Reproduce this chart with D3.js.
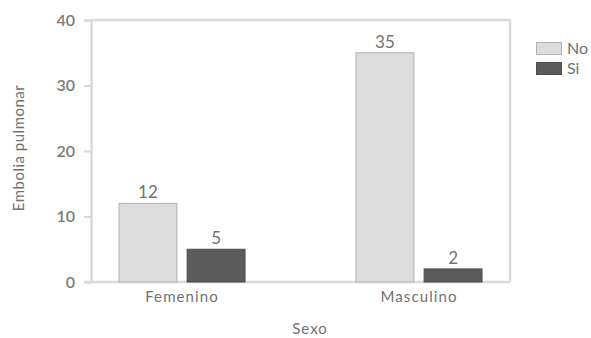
<!DOCTYPE html>
<html>
<head>
<meta charset="utf-8">
<script src="https://cdn.jsdelivr.net/npm/d3@7"></script>
<style>
  html, body { margin: 0; padding: 0; background: #fff; }
  svg text { font-family: "Lato", "Open Sans", sans-serif; fill: #727272; }
</style>
</head>
<body>
<svg id="chart" width="591" height="338"></svg>
<script>
// Embolia pulmonar por sexo
const categories = ["Femenino", "Masculino"];
const seriesNames = ["No", "Si"];
const valuesNo = [12, 35];
const valuesSi = [5, 2];
const yTicks = [0, 10, 20, 30, 40];

const colors = { No: "#dcdcdc", Si: "#5b5b5b" };
const strokes = { No: "#b4b4b4", Si: "#4e4e4e" };

const svg = d3.select("#chart");
const margin = { left: 91, right: 81, top: 20, bottom: 56 };
const W = 591, H = 338;
const plotW = W - margin.left - margin.right;
const plotH = H - margin.top - margin.bottom;

const rows = categories.map((c, i) => ({ cat: c, No: valuesNo[i], Si: valuesSi[i] }));

const x0 = d3.scaleBand().domain(categories).range([0, plotW])
  .paddingInner(0.468).paddingOuter(0.118);
const x1 = d3.scaleBand().domain(seriesNames).range([0, x0.bandwidth()])
  .paddingInner(0.15);
const y = d3.scaleLinear().domain([0, 40]).range([plotH, 0]);

const g = svg.append("g").attr("transform", `translate(${margin.left},${margin.top})`);

// frame: top and right edges
g.append("path")
  .attr("d", `M0,0H${plotW}V${plotH}`)
  .attr("fill", "none").attr("stroke", "#dadada").attr("stroke-width", 2.5);

// y axis
const yAxis = g.append("g").call(d3.axisLeft(y).tickValues(yTicks).tickSize(7).tickPadding(9));
yAxis.select(".domain").attr("stroke", "#dadada").attr("stroke-width", 2.5);
yAxis.selectAll(".tick line").attr("stroke", "#dadada").attr("stroke-width", 2);
yAxis.selectAll(".tick text").attr("font-size", 16).attr("font-weight", 600)
  .style("fill", "#7a7a7a");

// x axis baseline
const xAxis = g.append("g").attr("transform", `translate(0,${plotH})`)
  .call(d3.axisBottom(x0).tickSize(0).tickPadding(9));
xAxis.select(".domain").attr("stroke", "#dadada").attr("stroke-width", 2.5)
  .attr("d", `M-7,0H${plotW}`);
xAxis.selectAll(".tick text").attr("font-size", 15).attr("letter-spacing", 1.1)
  .style("fill", "#727272");

// bars
const groups = g.selectAll(".grp").data(rows).enter().append("g")
  .attr("transform", d => `translate(${x0(d.cat)},0)`);

groups.selectAll("rect").data(d => seriesNames.map(s => ({ s, v: d[s] })))
  .enter().append("rect")
  .attr("x", d => x1(d.s))
  .attr("y", d => y(d.v))
  .attr("width", x1.bandwidth())
  .attr("height", d => y(0) - y(d.v))
  .attr("fill", d => colors[d.s])
  .attr("stroke", d => strokes[d.s])
  .attr("stroke-width", 1);

groups.selectAll("text.val").data(d => seriesNames.map(s => ({ s, v: d[s] })))
  .enter().append("text")
  .attr("class", "val")
  .attr("x", d => x1(d.s) + x1.bandwidth() / 2)
  .attr("y", d => y(d.v) - 5)
  .attr("text-anchor", "middle")
  .attr("font-size", 17)
  .text(d => d.v);

// axis titles
svg.append("text")
  .attr("x", 310)
  .attr("y", 334)
  .attr("text-anchor", "middle")
  .attr("font-size", 15)
  .attr("letter-spacing", 1)
  .text("Sexo");

svg.append("text")
  .attr("transform", `translate(24,${margin.top + plotH / 2 - 3}) rotate(-90)`)
  .attr("text-anchor", "middle")
  .attr("font-size", 15)
  .attr("letter-spacing", 0.5)
  .text("Embolia pulmonar");

// legend
const legend = svg.append("g").attr("transform", "translate(536,42)");
seriesNames.forEach((s, i) => {
  const row = legend.append("g").attr("transform", `translate(0,${i * 20})`);
  row.append("rect").attr("x", 0.5).attr("y", 0.5).attr("width", 25).attr("height", 12)
    .attr("fill", colors[s]).attr("stroke", strokes[s]);
  row.append("text").attr("x", 31).attr("y", 12).attr("font-size", 16).text(s);
});
</script>
</body>
</html>
